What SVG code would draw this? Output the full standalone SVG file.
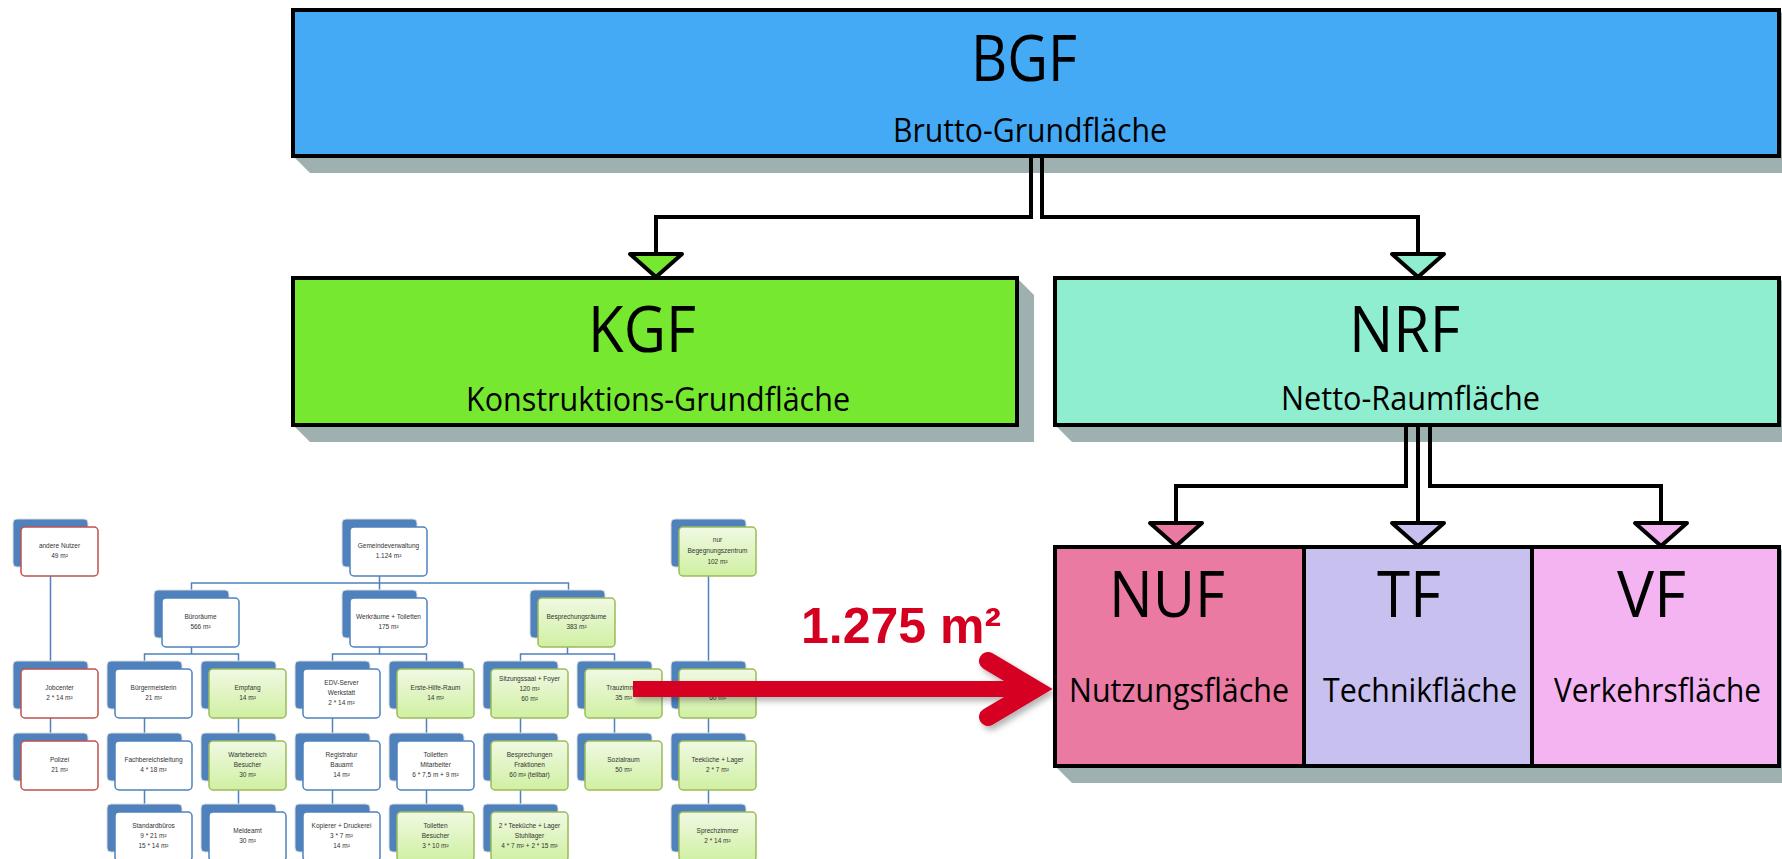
<svg xmlns="http://www.w3.org/2000/svg" width="1782" height="859" viewBox="0 0 1782 859">
<style>
.sh{fill:#9fb0b0}
.bx{stroke:#000;stroke-width:4}
.big{font-family:"Open Sans","Noto Sans",sans-serif;font-size:64px;fill:#000}
.sub{font-family:"Open Sans","Noto Sans",sans-serif;font-size:33px;fill:#000}
.ln{fill:none;stroke:#000;stroke-width:4}
.tri{stroke:#000;stroke-width:4;stroke-linejoin:round}
.tab{fill:#4f81bd;stroke:#dcdcdc;stroke-width:1}
.wb{fill:#fff;stroke:#4f81bd;stroke-width:1.5}
.wr{fill:#fff;stroke:#c0504d;stroke-width:1.5}
.gr{fill:url(#gg);stroke:#9bbb59;stroke-width:1.5}
.t{font-family:"Liberation Sans",Arial,sans-serif;font-size:6.5px;fill:#333;text-anchor:middle}
.oc{fill:none;stroke:#4f81bd;stroke-width:1.5}
.red{fill:#d50020}
</style>
<defs>
<linearGradient id="gg" x1="0" y1="0" x2="0" y2="1">
<stop offset="0" stop-color="#f0f9e3"/>
<stop offset="1" stop-color="#d0f0a2"/>
</linearGradient>
<filter id="ds" x="-10%" y="-20%" width="130%" height="160%">
<feDropShadow dx="3" dy="4" stdDeviation="3" flood-color="#000" flood-opacity="0.3"/>
</filter>
</defs>
<rect width="1782" height="859" fill="#fff"/>

<!-- shadows -->
<g id="shadows">
<polygon class="sh" points="293,156 310,173 1796,173 1796,27 1779,10"/>
<polygon class="sh" points="293,425 310,442 1034,442 1034,295 1017,278"/>
<polygon class="sh" points="1055,425 1072,442 1796,442 1796,295 1779,278"/>
<polygon class="sh" points="1055,766 1072,783 1796,783 1796,564 1779,547"/>
</g>

<g id="connectors">
<path class="ln" d="M1031,156V217H656V253"/>
<path class="ln" d="M1042,156V217H1418V253"/>
<path class="ln" d="M1406,424V486H1176V522"/>
<path class="ln" d="M1418,424V522"/>
<path class="ln" d="M1430,424V486H1661V522"/>
<polygon class="tri" fill="#77e830" points="630,254 682,254 656,277"/>
<polygon class="tri" fill="#90eed0" points="1392,254 1444,254 1418,277"/>
<polygon class="tri" fill="#ea7aa2" points="1150,523 1202,523 1176,546"/>
<polygon class="tri" fill="#c8c0ee" points="1392,523 1444,523 1418,546"/>
<polygon class="tri" fill="#f4b4f2" points="1635,523 1687,523 1661,546"/>
</g>

<g id="BGF">
<rect class="bx" x="293" y="10" width="1486" height="146" fill="#45aaf5"/>
<text class="big" x="971" y="81" textLength="106" lengthAdjust="spacingAndGlyphs">BGF</text>
<text class="sub" x="893" y="142" textLength="274" lengthAdjust="spacingAndGlyphs">Brutto-Grundfläche</text>
</g>
<g id="KGF">
<rect class="bx" x="293" y="278" width="724" height="147" fill="#77e830"/>
<text class="big" x="588" y="352" textLength="108" lengthAdjust="spacingAndGlyphs">KGF</text>
<text class="sub" x="466" y="411" textLength="384" lengthAdjust="spacingAndGlyphs">Konstruktions-Grundfläche</text>
</g>
<g id="NRF">
<rect class="bx" x="1055" y="278" width="724" height="147" fill="#90eed0"/>
<text class="big" x="1349" y="352" textLength="111" lengthAdjust="spacingAndGlyphs">NRF</text>
<text class="sub" x="1281" y="410" textLength="259" lengthAdjust="spacingAndGlyphs">Netto-Raumfläche</text>
</g>
<g id="NUF">
<rect x="1055" y="547" width="249" height="219" fill="#ea7aa2"/>
<text class="big" x="1109" y="617" textLength="116" lengthAdjust="spacingAndGlyphs">NUF</text>
<text class="sub" x="1069" y="702" textLength="220" lengthAdjust="spacingAndGlyphs">Nutzungsfläche</text>
</g>
<g id="TF">
<rect x="1304" y="547" width="228" height="219" fill="#c8c0ee"/>
<text class="big" x="1377" y="617" textLength="64" lengthAdjust="spacingAndGlyphs">TF</text>
<text class="sub" x="1323" y="702" textLength="194" lengthAdjust="spacingAndGlyphs">Technikfläche</text>
</g>
<g id="VF">
<rect x="1532" y="547" width="247" height="219" fill="#f4b4f2"/>
<text class="big" x="1617" y="617" textLength="69" lengthAdjust="spacingAndGlyphs">VF</text>
<text class="sub" x="1554" y="702" textLength="207" lengthAdjust="spacingAndGlyphs">Verkehrsfläche</text>
</g>
<g id="NUF-TF-VF-frame">
<rect x="1055" y="547" width="724" height="219" fill="none" stroke="#000" stroke-width="4"/>
<path d="M1304,547V766M1532,547V766" stroke="#000" stroke-width="4"/>
</g>

<!-- org chart -->
<g id="org-connectors">
<path class="oc" d="M379.5,576V590M191.5,590V583H568.5V590"/>
<path class="oc" d="M50.5,576V661M50.5,718V733"/>
<path class="oc" d="M191.5,647V654M144.5,661V654H238.5V661"/>
<path class="oc" d="M379.5,647V654M332.5,661V654H426.5V661"/>
<path class="oc" d="M567.5,647V654M520.5,661V654H614.5V661"/>
<path class="oc" d="M708.5,576V661"/>
<path class="oc" d="M144.5,718V733M238.5,718V733M332.5,718V733M426.5,718V733M520.5,718V733M614.5,718V733M708.5,718V733"/>
<path class="oc" d="M144.5,790V804M238.5,790V804M332.5,790V804M426.5,790V804M520.5,790V804M708.5,790V804"/>
</g>

<g id="o-andere"><rect class="tab" x="13" y="519" width="75" height="48" rx="4"/><rect class="wr" x="21" y="527" width="77" height="49" rx="4"/><text class="t" x="59.5" y="548">andere Nutzer</text><text class="t" x="59.5" y="558">49 m²</text></g>
<g id="o-gemeinde"><rect class="tab" x="342" y="519" width="75" height="48" rx="4"/><rect class="wb" x="350" y="527" width="77" height="49" rx="4"/><text class="t" x="388.5" y="548">Gemeindeverwaltung</text><text class="t" x="388.5" y="558">1.124 m²</text></g>
<g id="o-begegnung"><rect class="tab" x="671" y="519" width="75" height="48" rx="4"/><rect class="gr" x="679" y="527" width="77" height="49" rx="4"/><text class="t" x="717.5" y="542">nur</text><text class="t" x="717.5" y="553">Begegnungszentrum</text><text class="t" x="717.5" y="564">102 m²</text></g>

<g id="o-bueroraeume"><rect class="tab" x="154" y="590" width="75" height="48" rx="4"/><rect class="wb" x="162" y="598" width="77" height="49" rx="4"/><text class="t" x="200.5" y="619">Büroräume</text><text class="t" x="200.5" y="629">566 m²</text></g>
<g id="o-werkraeume"><rect class="tab" x="342" y="590" width="75" height="48" rx="4"/><rect class="wb" x="350" y="598" width="77" height="49" rx="4"/><text class="t" x="388.5" y="619">Werkräume + Toiletten</text><text class="t" x="388.5" y="629">175 m²</text></g>
<g id="o-besprechungsraeume"><rect class="tab" x="530" y="590" width="75" height="48" rx="4"/><rect class="gr" x="538" y="598" width="77" height="49" rx="4"/><text class="t" x="576.5" y="619">Besprechungsräume</text><text class="t" x="576.5" y="629">383 m²</text></g>

<g id="o-jobcenter"><rect class="tab" x="13" y="661" width="75" height="48" rx="4"/><rect class="wr" x="21" y="669" width="77" height="49" rx="4"/><text class="t" x="59.5" y="690">Jobcenter</text><text class="t" x="59.5" y="700">2 * 14 m²</text></g>
<g id="o-buergermeisterin"><rect class="tab" x="107" y="661" width="75" height="48" rx="4"/><rect class="wb" x="115" y="669" width="77" height="49" rx="4"/><text class="t" x="153.5" y="690">Bürgermeisterin</text><text class="t" x="153.5" y="700">21 m²</text></g>
<g id="o-empfang"><rect class="tab" x="201" y="661" width="75" height="48" rx="4"/><rect class="gr" x="209" y="669" width="77" height="49" rx="4"/><text class="t" x="247.5" y="690">Empfang</text><text class="t" x="247.5" y="700">14 m²</text></g>
<g id="o-edv"><rect class="tab" x="295" y="661" width="75" height="48" rx="4"/><rect class="wb" x="303" y="669" width="77" height="49" rx="4"/><text class="t" x="341.5" y="685">EDV-Server</text><text class="t" x="341.5" y="695">Werkstatt</text><text class="t" x="341.5" y="705">2 * 14 m²</text></g>
<g id="o-erstehilfe"><rect class="tab" x="389" y="661" width="75" height="48" rx="4"/><rect class="gr" x="397" y="669" width="77" height="49" rx="4"/><text class="t" x="435.5" y="690">Erste-Hilfe-Raum</text><text class="t" x="435.5" y="700">14 m²</text></g>
<g id="o-sitzungssaal"><rect class="tab" x="483" y="661" width="75" height="48" rx="4"/><rect class="gr" x="491" y="669" width="77" height="49" rx="4"/><text class="t" x="529.5" y="681">Sitzungssaal + Foyer</text><text class="t" x="529.5" y="691">120 m²</text><text class="t" x="529.5" y="701">60 m²</text></g>
<g id="o-trauzimmer"><rect class="tab" x="577" y="661" width="75" height="48" rx="4"/><rect class="gr" x="585" y="669" width="77" height="49" rx="4"/><text class="t" x="623.5" y="690">Trauzimmer</text><text class="t" x="623.5" y="700">35 m²</text></g>
<g id="o-node60"><rect class="tab" x="671" y="661" width="75" height="48" rx="4"/><rect class="gr" x="679" y="669" width="77" height="49" rx="4"/><text class="t" x="717.5" y="700">60 m²</text></g>

<g id="o-polizei"><rect class="tab" x="13" y="733" width="75" height="48" rx="4"/><rect class="wr" x="21" y="741" width="77" height="49" rx="4"/><text class="t" x="59.5" y="762">Polizei</text><text class="t" x="59.5" y="772">21 m²</text></g>
<g id="o-fachbereich"><rect class="tab" x="107" y="733" width="75" height="48" rx="4"/><rect class="wb" x="115" y="741" width="77" height="49" rx="4"/><text class="t" x="153.5" y="762">Fachbereichsleitung</text><text class="t" x="153.5" y="772">4 * 18 m²</text></g>
<g id="o-wartebereich"><rect class="tab" x="201" y="733" width="75" height="48" rx="4"/><rect class="gr" x="209" y="741" width="77" height="49" rx="4"/><text class="t" x="247.5" y="757">Wartebereich</text><text class="t" x="247.5" y="767">Besucher</text><text class="t" x="247.5" y="777">30 m²</text></g>
<g id="o-registratur"><rect class="tab" x="295" y="733" width="75" height="48" rx="4"/><rect class="wb" x="303" y="741" width="77" height="49" rx="4"/><text class="t" x="341.5" y="757">Registratur</text><text class="t" x="341.5" y="767">Bauamt</text><text class="t" x="341.5" y="777">14 m²</text></g>
<g id="o-toilettenma"><rect class="tab" x="389" y="733" width="75" height="48" rx="4"/><rect class="wb" x="397" y="741" width="77" height="49" rx="4"/><text class="t" x="435.5" y="757">Toiletten</text><text class="t" x="435.5" y="767">Mitarbeiter</text><text class="t" x="435.5" y="777">6 * 7,5 m + 9 m²</text></g>
<g id="o-besprechungen"><rect class="tab" x="483" y="733" width="75" height="48" rx="4"/><rect class="gr" x="491" y="741" width="77" height="49" rx="4"/><text class="t" x="529.5" y="757">Besprechungen</text><text class="t" x="529.5" y="767">Fraktionen</text><text class="t" x="529.5" y="777">60 m² (teilbar)</text></g>
<g id="o-sozialraum"><rect class="tab" x="577" y="733" width="75" height="48" rx="4"/><rect class="gr" x="585" y="741" width="77" height="49" rx="4"/><text class="t" x="623.5" y="762">Sozialraum</text><text class="t" x="623.5" y="772">50 m²</text></g>
<g id="o-teekueche"><rect class="tab" x="671" y="733" width="75" height="48" rx="4"/><rect class="gr" x="679" y="741" width="77" height="49" rx="4"/><text class="t" x="717.5" y="762">Teeküche + Lager</text><text class="t" x="717.5" y="772">2 * 7 m²</text></g>

<g id="o-standard"><rect class="tab" x="107" y="804" width="75" height="48" rx="4"/><rect class="wb" x="115" y="812" width="77" height="49" rx="4"/><text class="t" x="153.5" y="828">Standardbüros</text><text class="t" x="153.5" y="838">9 * 21 m²</text><text class="t" x="153.5" y="848">15 * 14 m²</text></g>
<g id="o-meldeamt"><rect class="tab" x="201" y="804" width="75" height="48" rx="4"/><rect class="wb" x="209" y="812" width="77" height="49" rx="4"/><text class="t" x="247.5" y="833">Meldeamt</text><text class="t" x="247.5" y="843">30 m²</text></g>
<g id="o-kopierer"><rect class="tab" x="295" y="804" width="75" height="48" rx="4"/><rect class="wb" x="303" y="812" width="77" height="49" rx="4"/><text class="t" x="341.5" y="828">Kopierer + Druckerei</text><text class="t" x="341.5" y="838">3 * 7 m²</text><text class="t" x="341.5" y="848">14 m²</text></g>
<g id="o-toilettenbe"><rect class="tab" x="389" y="804" width="75" height="48" rx="4"/><rect class="gr" x="397" y="812" width="77" height="49" rx="4"/><text class="t" x="435.5" y="828">Toiletten</text><text class="t" x="435.5" y="838">Besucher</text><text class="t" x="435.5" y="848">3 * 10 m²</text></g>
<g id="o-teekueche2"><rect class="tab" x="483" y="804" width="75" height="48" rx="4"/><rect class="gr" x="491" y="812" width="77" height="49" rx="4"/><text class="t" x="529.5" y="828">2 * Teeküche + Lager</text><text class="t" x="529.5" y="838">Stuhllager</text><text class="t" x="529.5" y="848">4 * 7 m² + 2 * 15 m²</text></g>
<g id="o-sprech"><rect class="tab" x="671" y="804" width="75" height="48" rx="4"/><rect class="gr" x="679" y="812" width="77" height="49" rx="4"/><text class="t" x="717.5" y="833">Sprechzimmer</text><text class="t" x="717.5" y="843">2 * 14 m²</text></g>

<g id="red-arrow" filter="url(#ds)">
<rect class="red" x="633" y="681" width="400" height="16"/>
<path d="M988,661L1035,689L988,717" fill="none" stroke="#d50020" stroke-width="18" stroke-linecap="round" stroke-linejoin="miter" stroke-miterlimit="10"/>
</g>
<text id="area-label" x="801" y="643" font-family="Liberation Sans, Arial, sans-serif" font-weight="bold" font-size="50" fill="#d50020">1.275 m²</text>
</svg>
